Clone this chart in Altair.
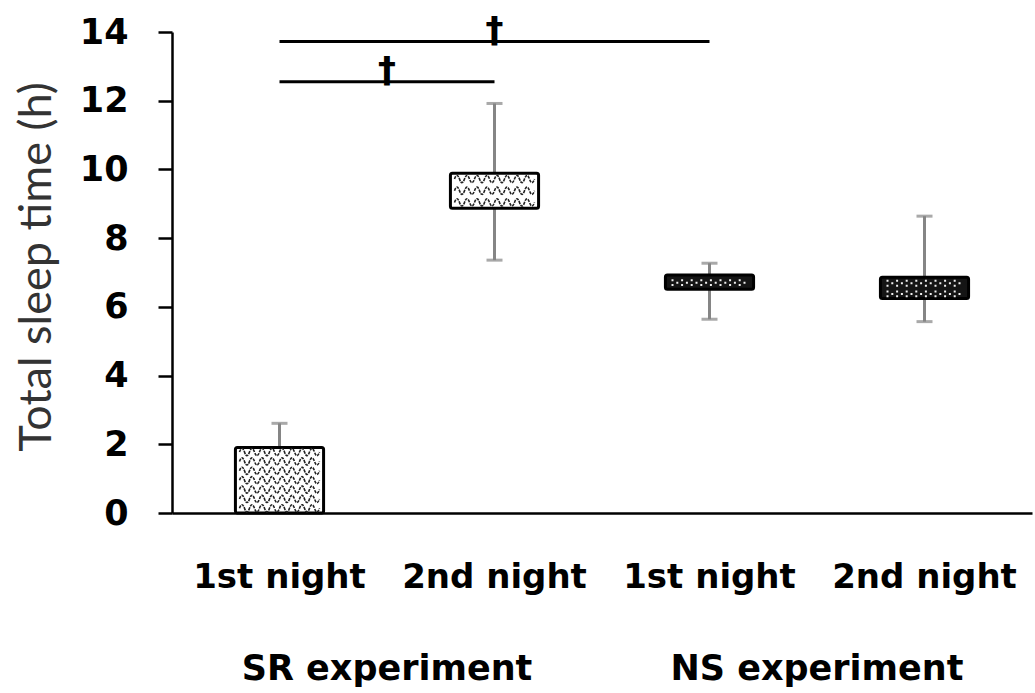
import json
import altair as alt
import pandas as pd
import numpy as np

# ---------------- data ----------------
conditions = ["SR 1st night", "SR 2nd night", "NS 1st night", "NS 2nd night"]
night_labels = ["1st night", "2nd night", "1st night", "2nd night"]
experiment = ["SR", "SR", "NS", "NS"]
box_low = [0.0, 8.87, 6.51, 6.24]
box_high = [1.91, 9.89, 6.93, 6.86]
whisker_low = [1.91, 7.36, 5.64, 5.57]
whisker_high = [2.61, 11.92, 7.27, 8.64]

group_names = ["SR experiment", "NS experiment"]
group_first = ["SR 1st night", "NS 1st night"]

sig_from = ["SR 1st night", "SR 1st night"]
sig_to = ["SR 2nd night", "NS 1st night"]
sig_level = [12.55, 13.72]
sig_mark = ["\u2020", "\u2020"]

y_ticks = [0, 2, 4, 6, 8, 10, 12, 14]
y_title = "Total sleep time (h)"

# ---------------- layout ----------------
W, H = 860, 481
PAD_IN, PAD_OUT = 0.59, 0.295
STEP = W / len(conditions)
BAND = STEP * (1 - PAD_IN)
YMAX = 14
PX_PER_UNIT = H / YMAX
LABEL_FONT = "DejaVu Sans"

xs = alt.Scale(domain=conditions, paddingInner=PAD_IN, paddingOuter=PAD_OUT)
ys = alt.Scale(domain=[0, YMAX], nice=False, zero=True)

label_map = json.dumps(dict(zip(conditions, night_labels)))
x_axis = alt.Axis(
    title=None, labelExpr=f"{label_map}[datum.value]", labelAngle=0,
    ticks=False, domain=True, domainColor="black", domainWidth=2.5,
    labelFont=LABEL_FONT, labelFontWeight="bold", labelFontSize=34,
    labelColor="black", labelPadding=47, labelLimit=400, labelOverlap=False,
)
y_axis = alt.Axis(
    title=y_title, values=y_ticks, grid=False,
    domainColor="black", domainWidth=2.5, tickColor="black", tickWidth=2.5,
    tickSize=14, labelFont=LABEL_FONT, labelFontWeight="bold", labelFontSize=35,
    labelColor="black", labelPadding=30,
    titleFont="Lato", titleFontWeight="normal", titleFontSize=45,
    titleColor="#333333", titleAngle=-90, titleX=-136, titleY=H / 2 - 6,
    titleAlign="center", titleBaseline="middle",
)

df = pd.DataFrame({
    "cond": conditions, "exp": experiment,
    "blo": box_low, "bhi": box_high, "wlo": whisker_low, "whi": whisker_high,
})

# caps: upper always, lower only if it lies below the box
cap_rows = []
for c, bl, wl, wh in zip(conditions, box_low, whisker_low, whisker_high):
    cap_rows.append({"cond": c, "v": wh})
    if wl < bl:
        cap_rows.append({"cond": c, "v": wl})
caps_df = pd.DataFrame(cap_rows)

# ---- fill textures: glyph shapes (unit square -1..1) ----
TEX_W = 80  # px width of one texture row
half = 2 / 16
wave = f"M-1,0 Q{-1 + half / 2:.4f},-0.18 {-1 + half:.4f},0"
for k in range(2, 17):
    wave += f" T{-1 + k * half:.4f},0"
d = 0.05
dots = ""
for k in range(16):
    x0 = -0.95 + k * 0.12
    ys_ = [-0.07, 0.05] if k % 2 == 0 else [-0.01]
    for yy in ys_:
        dots += f"M{x0:.3f},{yy:.3f}h{d}v{d}h{-d}Z"

ROW_SR, ROW_NS = 8.5, 8.0
tex_rows = []
for c, e, bl, bh in zip(conditions, experiment, box_low, box_high):
    inner_px = (bh - bl) * PX_PER_UNIT - 5
    step_px = ROW_SR if e == "SR" else ROW_NS
    n = max(1, int(inner_px // step_px))
    for i in range(n):
        tex_rows.append({"cond": c, "exp": e, "y": bl + (i + 0.5) * (bh - bl) / n})
tex_df = pd.DataFrame(tex_rows)

waves = alt.Chart(tex_df[tex_df.exp == "SR"]).mark_point(
    shape=wave, filled=False, stroke="#222222", strokeWidth=1.6,
    strokeDash=[3, 1], size=TEX_W ** 2, opacity=1,
).encode(x=alt.X("cond:N", scale=xs, sort=conditions), y=alt.Y("y:Q", scale=ys))

speckles = alt.Chart(tex_df[tex_df.exp == "NS"]).mark_point(
    shape=dots, filled=True, fill="#f0f0f0", strokeWidth=0, size=TEX_W ** 2, opacity=1,
).encode(x=alt.X("cond:N", scale=xs, sort=conditions), y=alt.Y("y:Q", scale=ys))

sig_df = pd.DataFrame({"a": sig_from, "b": sig_to, "lvl": sig_level, "m": sig_mark})
sig_df["off"] = [BAND / 2 + (conditions.index(b) - conditions.index(a)) / 2 * STEP
                 for a, b in zip(sig_from, sig_to)]

grp_df = pd.DataFrame({"cond": group_first, "name": group_names})
grp_df["off"] = BAND / 2 + STEP / 2

X = alt.X("cond:N", scale=xs, axis=x_axis, sort=conditions)

whiskers = alt.Chart(df).mark_rule(color="#858585", strokeWidth=3).encode(
    x=X, y=alt.Y("wlo:Q", scale=ys, axis=y_axis), y2="whi:Q")

caps = alt.Chart(caps_df).mark_tick(color="#858585", thickness=3, size=16).encode(
    x=alt.X("cond:N", scale=xs, sort=conditions), y=alt.Y("v:Q", scale=ys))

boxes = alt.Chart(df).mark_bar(stroke="black", strokeWidth=3, cornerRadius=2).encode(
    x=alt.X("cond:N", scale=xs, sort=conditions),
    y=alt.Y("blo:Q", scale=ys), y2="bhi:Q",
    fill=alt.Fill("exp:N", scale=alt.Scale(domain=["SR", "NS"], range=["#ffffff", "#151515"]),
                  legend=None),
)

sig_lines = alt.Chart(sig_df).mark_rule(color="black", strokeWidth=3).encode(
    x=alt.X("a:N", scale=xs, sort=conditions), x2="b:N", y=alt.Y("lvl:Q", scale=ys))

daggers = alt.Chart(sig_df).mark_text(font="DejaVu Sans", fontWeight="bold", fontSize=36,
                                      baseline="alphabetic", color="black").encode(
    x=alt.X("a:N", scale=xs, sort=conditions), xOffset=alt.XOffset("off:Q", scale=None),
    y=alt.Y("lvl:Q", scale=ys), text="m:N")

groups = alt.Chart(grp_df).mark_text(font=LABEL_FONT, fontWeight="bold", fontSize=35,
                                     baseline="alphabetic", color="black").encode(
    x=alt.X("cond:N", scale=xs, sort=conditions), xOffset=alt.XOffset("off:Q", scale=None),
    y=alt.value(H + 167), text="name:N")

chart = alt.layer(whiskers, caps, boxes, waves, speckles, sig_lines, daggers, groups).properties(
    width=W, height=H,
    autosize=alt.AutoSizeParams(type="none"),
    padding={"left": 172, "top": 32, "right": 3, "bottom": 180},
    background="white",
).configure_view(stroke=None)

chart.save("out.html", embed_options={"renderer": "svg", "actions": False})
